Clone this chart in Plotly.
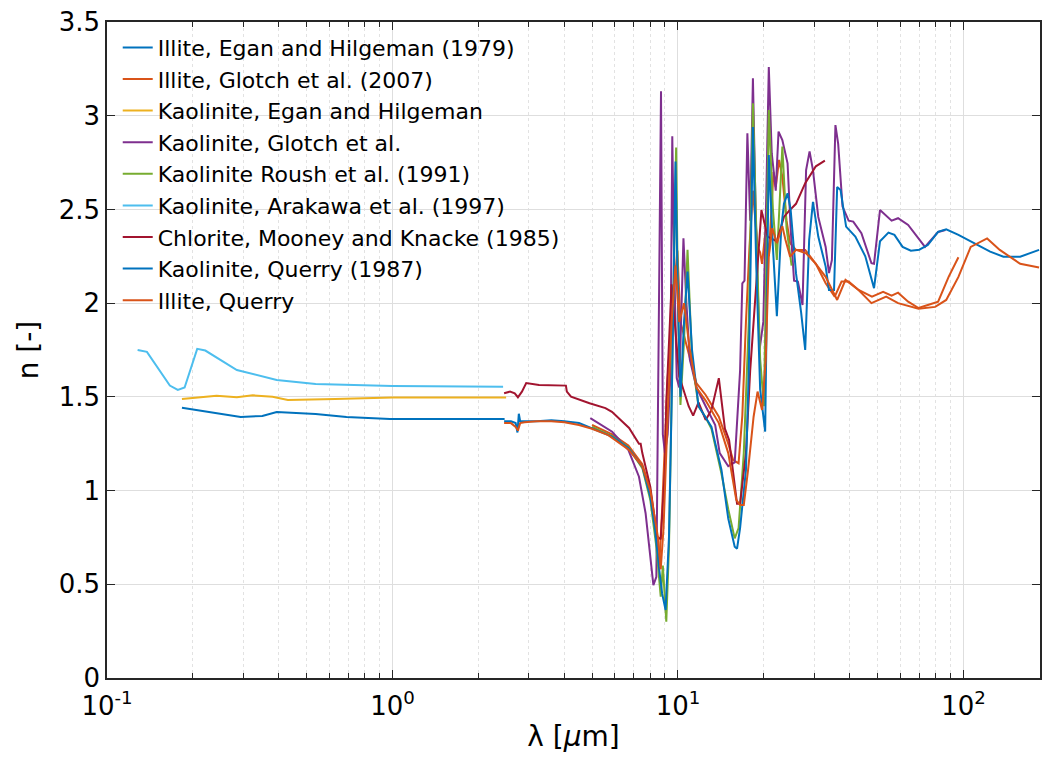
import plotly.graph_objects as go

# ---------------- data (wavelength in µm, real refractive index n) ----------------
names = [
    "Illite, Egan and Hilgeman (1979)",
    "Illite, Glotch et al. (2007)",
    "Kaolinite, Egan and Hilgeman",
    "Kaolinite, Glotch et al.",
    "Kaolinite Roush et al. (1991)",
    "Kaolinite, Arakawa et al. (1997)",
    "Chlorite, Mooney and Knacke (1985)",
    "Kaolinite, Querry (1987)",
    "Illite, Querry",
]
colors = ["#0072BD", "#D95319", "#EDB120", "#7E2F8E", "#77AC30",
          "#4DBEEE", "#A2142F", "#0072BD", "#D95319"]

illite_egan_x = [0.183, 0.207, 0.242, 0.294, 0.35, 0.393, 0.538, 0.69, 0.98, 2.47]
illite_egan_y = [1.442, 1.43, 1.414, 1.393, 1.398, 1.419, 1.409, 1.392, 1.382, 1.382]

illite_glotch_x = [5.0, 5.88, 6.7, 7.5, 8.0, 8.4, 8.6, 8.8, 9.2, 9.6, 9.95, 10.2, 10.6, 11.0,
                   11.6, 12.5, 13.9, 15.0, 15.6, 16.3, 16.8, 17.3, 17.8, 18.3, 19.0, 19.4,
                   19.7, 20.3, 20.8, 21.6, 22.0, 22.6, 23.2, 24.0, 24.7, 25.9, 27.9, 30.4,
                   32.9, 35.4, 37.4, 39.6, 42.9, 47.8, 52.3, 56, 59, 64, 69.6, 75, 81.5,
                   88.7, 96]
illite_glotch_y = [1.35, 1.30, 1.24, 1.14, 1.0, 0.75, 0.6, 0.9, 1.6, 2.0, 2.28, 1.9, 1.8, 1.7,
                   1.574, 1.51, 1.394, 1.25, 1.163, 1.146, 1.4, 1.9, 2.3, 2.6, 2.3, 2.27,
                   2.21, 2.4, 2.25, 2.7, 2.62, 2.764, 2.675, 2.44, 2.32, 2.284, 2.284, 2.21,
                   2.106, 2.035, 2.115, 2.115, 2.07, 2.035, 2.06, 2.04, 2.056, 2.008, 1.974,
                   1.99, 2.008, 2.14, 2.245]

kaol_egan_x = [0.183, 0.242, 0.285, 0.324, 0.38, 0.43, 0.63, 1.0, 2.5]
kaol_egan_y = [1.489, 1.506, 1.498, 1.508, 1.50, 1.483, 1.488, 1.496, 1.496]

kaol_glotch_x = [4.93, 5.88, 6.7, 7.3, 7.7, 8.0, 8.2, 8.4, 8.55, 8.72, 8.85, 9.0, 9.2, 9.4,
                 9.55, 9.7, 9.9, 10.1, 10.45, 10.7, 11.0, 11.6, 12.5, 13.5, 14.0, 15.0,
                 15.8, 16.5, 16.8, 17.1, 17.5, 17.9, 18.3, 18.7, 19.3, 19.9, 20.4, 20.8,
                 21.3, 22.0, 22.5, 23.2, 24.2, 24.8, 25.5, 26.3, 27.3, 28.1, 28.9, 29.7,
                 31.0, 32.9, 33.8, 34.6, 35.6, 36.4, 37.7, 39.6, 41.1, 43.9, 47.6, 48.6,
                 51, 56, 59, 64, 73.3, 76.2, 81.5, 86.5]
kaol_glotch_y = [1.386, 1.314, 1.217, 1.074, 0.879, 0.647, 0.496, 0.54, 1.6, 3.13, 1.3, 1.2,
                 1.3, 1.6, 2.89, 2.2, 1.6, 1.55, 2.346, 2.0, 1.7, 1.55, 1.45, 1.35, 1.2,
                 1.13, 1.15, 1.64, 2.106, 2.12, 2.906, 2.44, 3.2, 2.5, 1.75, 1.9, 2.6, 3.26,
                 2.8, 2.6, 2.915, 2.87, 2.746, 2.4, 2.12, 2.115, 1.99, 2.71, 2.81, 2.71,
                 2.46, 2.30, 2.16, 2.23, 2.95, 2.85, 2.515, 2.44, 2.435, 2.373, 2.213, 2.21,
                 2.497, 2.44, 2.453, 2.417, 2.3, 2.33, 2.38, 2.39]

roush_x = [5.0, 5.88, 6.7, 7.5, 8.0, 8.4, 8.7, 8.85, 9.1, 9.3, 9.55, 9.85, 10.0, 10.2, 10.5,
           10.8, 11.2, 11.8, 12.5, 13.1, 14.2, 15.0, 15.8, 16.3, 17.0, 17.7, 18.0, 18.3,
           18.8, 19.4, 20.0, 20.8, 21.5, 22.2, 23.2, 24.0, 25.0]
roush_y = [1.34, 1.29, 1.23, 1.12, 0.95, 0.7, 0.434, 0.6, 0.30, 0.7, 1.7, 2.83, 2.0, 1.457,
           1.8, 2.284, 1.7, 1.45, 1.39, 1.33, 1.09, 0.9, 0.745, 0.80, 1.2, 1.9, 2.5, 3.066,
           2.4, 1.7, 1.45, 3.03, 2.5, 2.23, 2.836, 2.4, 2.2]

arakawa_x = [0.128, 0.138, 0.166, 0.177, 0.187, 0.207, 0.221, 0.285, 0.393, 0.538, 1.0, 2.44]
arakawa_y = [1.75, 1.74, 1.56, 1.537, 1.55, 1.756, 1.747, 1.643, 1.59, 1.569, 1.558, 1.554]

chlorite_x = [2.46, 2.58, 2.68, 2.75, 2.84, 2.94, 3.26, 4.05, 4.08, 4.22, 4.9, 5.57, 5.87,
              6.74, 7.3, 7.4, 7.5, 7.6, 8.0, 8.45, 8.7, 9.0, 9.1, 9.5, 10.1, 10.9, 11.3,
              11.8, 12.5, 13.1, 13.9, 14.6, 15.1, 16.1, 16.5, 17.3, 17.9, 19.0, 19.6, 20.6,
              22.2, 23.5, 24.4, 25.9, 27.9, 30.4, 32.7]
chlorite_y = [1.519, 1.528, 1.519, 1.498, 1.528, 1.574, 1.563, 1.56, 1.528, 1.501, 1.466,
              1.44, 1.42, 1.334, 1.25, 1.25, 1.20, 1.16, 1.02, 0.754, 0.74, 1.11, 1.47, 2.1,
              1.61, 1.45, 1.40, 1.47, 1.377, 1.43, 1.60, 1.33, 1.27, 0.93, 0.93, 1.2, 1.64,
              2.2, 2.497, 2.355, 2.33, 2.46, 2.49, 2.53, 2.64, 2.73, 2.76]

kaol_querry_x = [2.46, 2.6, 2.7, 2.74, 2.77, 2.8, 2.9, 3.2, 3.6, 4.0, 4.5, 5.0, 5.88, 6.7,
                 7.5, 8.0, 8.3, 8.6, 8.8, 9.05, 9.3, 9.55, 9.8, 10.0, 10.2, 10.5, 10.8,
                 11.2, 11.8, 12.5, 13.1, 14.2, 15.0, 15.8, 16.1, 16.5, 17.3, 17.7, 18.0,
                 18.3, 18.8, 19.4, 20.2, 20.8, 21.5, 22.2, 23.0, 23.5, 24.2, 24.8, 25.9,
                 27.0, 27.9, 28.8, 29.7, 31.0, 32.9, 33.8, 35.2, 36.1, 37.1, 38.8, 41.8,
                 45.3, 48.6, 51, 54.6, 57.3, 61.2, 65.4, 70, 75, 81.5, 87, 96, 109, 124,
                 138, 158, 184]
kaol_querry_y = [1.37, 1.37, 1.36, 1.31, 1.41, 1.37, 1.37, 1.37, 1.375, 1.37, 1.36, 1.33,
                 1.288, 1.227, 1.128, 0.967, 0.80, 0.576, 0.45, 0.363, 0.754, 1.64, 2.755,
                 2.0, 1.5, 1.9, 2.168, 1.75, 1.45, 1.39, 1.34, 1.11, 0.85, 0.70, 0.69, 0.80,
                 1.11, 1.64, 2.3, 2.94, 2.2, 1.54, 1.314, 2.79, 2.3, 1.93, 2.4, 2.53, 2.586,
                 2.5, 2.16, 1.95, 1.75, 2.337, 2.54, 2.355, 2.195, 2.07, 2.07, 2.62, 2.604,
                 2.408, 2.355, 2.25, 2.08, 2.33, 2.376, 2.364, 2.30, 2.28, 2.285, 2.31, 2.38,
                 2.394, 2.364, 2.32, 2.275, 2.248, 2.248, 2.284]

illite_querry_x = [2.46, 2.6, 2.7, 2.75, 2.8, 2.9, 3.2, 3.6, 4.0, 4.5, 5.0, 5.7, 6.7, 7.5,
                   8.0, 8.3, 8.5, 8.7, 8.9, 9.2, 9.5, 9.8, 10.1, 10.5, 11.0, 11.6, 12.5,
                   13.9, 15.0, 16.0, 16.5, 17.0, 17.6, 18.4, 19.0, 19.7, 20.3, 20.8, 21.4,
                   22.2, 23.2, 23.8, 24.7, 25.9, 28.1, 30.4, 32.9, 36.1, 38.6, 42.9, 47.6,
                   53.6, 59, 69.6, 79.6, 87, 96, 106, 121, 134, 158, 184]
illite_querry_y = [1.36, 1.36, 1.34, 1.32, 1.36, 1.365, 1.37, 1.37, 1.365, 1.35, 1.33,
                   1.296, 1.22, 1.13, 1.0, 0.85, 0.754, 0.58, 0.8, 1.4, 1.9, 2.2, 1.9, 2.0,
                   1.75, 1.55, 1.48, 1.36, 1.2, 0.95, 0.923, 0.923, 1.11, 1.394, 1.528, 1.43,
                   1.7, 2.25, 2.4, 2.32, 2.41, 2.337, 2.248, 2.284, 2.266, 2.21, 2.14, 2.017,
                   2.124, 2.07, 2.0, 2.035, 2.0, 1.97, 1.98, 2.017, 2.14, 2.30, 2.345, 2.284,
                   2.21, 2.19]

series_x = [illite_egan_x, illite_glotch_x, kaol_egan_x, kaol_glotch_x, roush_x,
            arakawa_x, chlorite_x, kaol_querry_x, illite_querry_x]
series_y = [illite_egan_y, illite_glotch_y, kaol_egan_y, kaol_glotch_y, roush_y,
            arakawa_y, chlorite_y, kaol_querry_y, illite_querry_y]

x_tickvals = [0.1, 1, 10, 100]
x_ticktext = ["10<sup>-1</sup>", "10<sup>0</sup>", "10<sup>1</sup>", "10<sup>2</sup>"]
y_tickvals = [0, 0.5, 1, 1.5, 2, 2.5, 3, 3.5]
y_ticktext = ["0", "0.5", "1", "1.5", "2", "2.5", "3", "3.5"]

# ---------------- figure ----------------
fig = go.Figure()
for nm, c, xs, ys in zip(names, colors, series_x, series_y):
    fig.add_trace(go.Scatter(x=xs, y=ys, mode="lines", name=nm,
                             line=dict(color=c, width=2)))

font_family = "DejaVu Sans, Verdana, sans-serif"
axis_col = "#262626"
grid_col = "#dedede"

fig.update_layout(
    width=1043, height=775,
    margin=dict(l=107, r=1, t=22, b=97),
    paper_bgcolor="white", plot_bgcolor="white",
    font=dict(family=font_family, color="black"),
    showlegend=True,
    legend=dict(x=0.0115, y=0.993, xanchor="left", yanchor="top",
                bgcolor="rgba(0,0,0,0)", borderwidth=0,
                font=dict(size=22, family=font_family, color="black"),
                tracegroupgap=0, itemwidth=30),
)

fig.update_xaxes(
    type="log", range=[-1, 2.268],
    tickvals=x_tickvals, ticktext=x_ticktext,
    tickfont=dict(size=26, color="black"), ticklabelstandoff=4,
    ticks="inside", ticklen=8, tickcolor=axis_col, tickwidth=1,
    showline=True, linecolor=axis_col, linewidth=1.5, mirror="ticks",
    showgrid=True, gridcolor=grid_col, gridwidth=1,
    minor=dict(dtick="D1", ticks="inside", ticklen=5, tickcolor=axis_col,
               showgrid=True, gridcolor="#e2e2e2", griddash="dot", gridwidth=1),
    title=dict(text="λ [<i>μ</i>m]", font=dict(size=28, color="black"), standoff=6),
    zeroline=False,
)
fig.update_yaxes(
    range=[0, 3.5],
    tickvals=y_tickvals, ticktext=y_ticktext,
    tickfont=dict(size=26, color="black"),
    ticks="inside", ticklen=8, tickcolor=axis_col, tickwidth=1,
    showline=True, linecolor=axis_col, linewidth=1.5, mirror="ticks",
    showgrid=True, gridcolor=grid_col, gridwidth=1,
    title=dict(text="n [-]", font=dict(size=28, color="black"), standoff=12),
    zeroline=False,
)

fig.write_html("out.html")
